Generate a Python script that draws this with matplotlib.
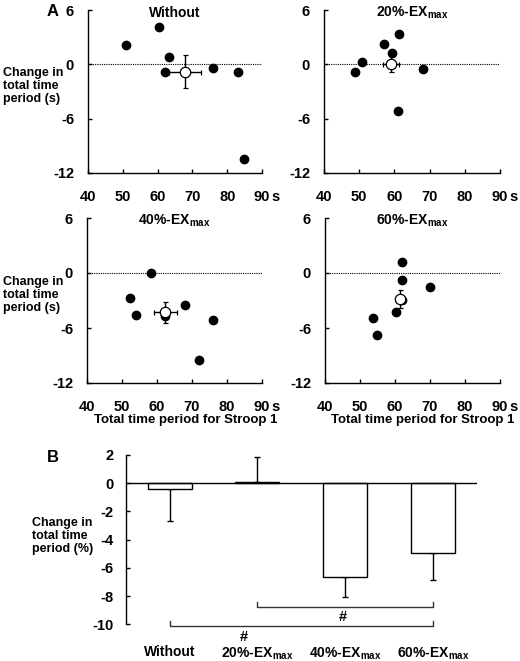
import numpy as np
import matplotlib
matplotlib.use('Agg')
import matplotlib.pyplot as plt

plt.rcParams['font.family'] = ['Liberation Sans', 'DejaVu Sans']
plt.rcParams['font.weight'] = 'bold'
plt.rcParams['mathtext.fontset'] = 'custom'
plt.rcParams['mathtext.rm'] = 'Liberation Sans:bold'
plt.rcParams['mathtext.bf'] = 'Liberation Sans:bold'
plt.rcParams['axes.unicode_minus'] = False

# panel A data: stroop 1 time (s) vs change in total time (s)
titles = ['Without', r'20%-EX$_{\rm max}$', r'40%-EX$_{\rm max}$', r'60%-EX$_{\rm max}$']
x_without = [51.0, 60.4, 63.2, 62.2, 75.9, 83.2, 84.8]
y_without = [2.1, 4.1, 0.8, -0.9, -0.4, -0.9, -10.5]
x_20 = [48.9, 50.8, 57.0, 59.4, 61.3, 68.1, 61.0]
y_20 = [-0.9, 0.3, 2.2, 1.2, 3.3, -0.55, -5.2]
x_40 = [58.2, 52.4, 54.0, 67.9, 76.1, 72.0, 62.3]
y_40 = [0.0, -2.7, -4.6, -3.5, -5.1, -9.5, -4.7]
x_60 = [61.9, 62.1, 70.1, 53.6, 54.8, 60.4, 62.1]
y_60 = [1.15, -0.75, -1.5, -4.9, -6.75, -4.25, -2.9]
# group means with SE
mean_x = [67.8, 59.1, 62.4, 61.5]
mean_y = [-0.8, 0.07, -4.3, -2.8]
se_x = [4.6, 2.2, 3.3, 1.2]
se_y = [1.8, 0.9, 1.1, 1.0]

# panel B data: change in total time (%)
groups = ['Without', r'20%-EX$_{\rm max}$', r'40%-EX$_{\rm max}$', r'60%-EX$_{\rm max}$']
pct_change = [-0.43, 0.12, -6.62, -4.96]
pct_se = [2.24, 1.73, 1.48, 1.9]

fig = plt.figure(figsize=(5.2, 6.61), dpi=100)
W, H = 520.0, 661.0

def px_axes(x0, y0, x1, y1):
    return fig.add_axes([x0 / W, 1 - y1 / H, (x1 - x0) / W, (y1 - y0) / H])

boxes = [(88, 10, 262, 173), (324, 10, 500, 173),
         (87, 218, 262, 383), (325, 218, 500, 383)]
xs = [x_without, x_20, x_40, x_60]
ys = [y_without, y_20, y_40, y_60]

for i, b in enumerate(boxes):
    ax = px_axes(*b)
    ax.axhline(0, color='black', lw=0.8, ls=(0, (1, 1)), zorder=1)
    ax.plot(xs[i], ys[i], 'o', color='black', ms=6, zorder=3)
    ax.errorbar(mean_x[i], mean_y[i], xerr=se_x[i], yerr=se_y[i], fmt='o',
                mfc='white', mec='black', ecolor='black', ms=7.5, mew=0.9,
                elinewidth=1, capsize=1.8, zorder=4)
    ax.set_xlim(40, 90)
    ax.set_ylim(-12, 6)
    ax.set_xticks([40, 50, 60, 70, 80, 90])
    ax.set_yticks([6, 0, -6, -12])
    ax.spines['top'].set_visible(False)
    ax.spines['right'].set_visible(False)
    for s in ['left', 'bottom']:
        ax.spines[s].set_linewidth(1.0)
    ax.tick_params(axis='x', direction='in', length=3, width=1, pad=12.5, labelsize=10.5)
    ax.tick_params(axis='y', direction='in', length=3, width=1, pad=10, labelsize=10.5)
    for lab in ax.get_xticklabels() + ax.get_yticklabels():
        lab.set_fontweight('bold')
    ax.annotate(titles[i], xy=(0.5, 1), xycoords='axes fraction', xytext=(0, -2),
                textcoords='offset points', ha='center', va='center',
                fontsize=10, fontweight='bold', annotation_clip=False)
    ax.annotate('s', xy=(1, 0), xycoords='axes fraction', xytext=(9.5, -17),
                textcoords='offset points', ha='center', va='center',
                fontsize=10.5, fontweight='bold', annotation_clip=False)

ylab_s = 'Change in\ntotal time\nperiod (s)'
fig.text(3 / W, 1 - 86 / H, ylab_s, ha='left', va='center',
         fontsize=9, fontweight='bold', linespacing=1.15)
fig.text(3 / W, 1 - 295 / H, ylab_s, ha='left', va='center',
         fontsize=9, fontweight='bold', linespacing=1.15)
fig.text(186 / W, 1 - 420 / H, 'Total time period for Stroop 1', ha='center', va='center',
         fontsize=9.5, fontweight='bold')
fig.text(423 / W, 1 - 420 / H, 'Total time period for Stroop 1', ha='center', va='center',
         fontsize=9.5, fontweight='bold')
fig.text(53 / W, 1 - 12 / H, 'A', ha='center', va='center', fontsize=12, fontweight='bold')
fig.text(53 / W, 1 - 458 / H, 'B', ha='center', va='center', fontsize=12, fontweight='bold')

# panel B
axb = px_axes(125.7, 455, 476.7, 624.3)
pos = np.arange(len(groups))
lower = [pct_se[k] if pct_change[k] < 0 else 0 for k in range(4)]
upper = [pct_se[k] if pct_change[k] >= 0 else 0 for k in range(4)]
axb.bar(pos, pct_change, 0.5, color='white', edgecolor='black', lw=1, zorder=2)
axb.errorbar(pos, pct_change, yerr=[lower, upper], fmt='none', ecolor='black',
             elinewidth=1, capsize=2, capthick=1, zorder=1)
axb.axhline(0, color='black', lw=1, zorder=3)
axb.set_xlim(-0.5, 3.5)
axb.set_ylim(-10, 2)
axb.set_yticks([2, 0, -2, -4, -6, -8, -10])
axb.set_xticks(pos)
axb.set_xticklabels(groups)
for s in ['top', 'right', 'bottom']:
    axb.spines[s].set_visible(False)
axb.spines['left'].set_linewidth(1)
axb.tick_params(axis='y', direction='in', length=3, width=1, pad=9, labelsize=10.5)
axb.tick_params(axis='x', length=0, pad=15, labelsize=10)
for lab in axb.get_xticklabels() + axb.get_yticklabels():
    lab.set_fontweight('bold')

# significance brackets
axb.plot([1.0, 1.0, 3.0, 3.0], [-8.45, -8.75, -8.75, -8.45], color='#333333', lw=1, clip_on=False)
axb.text(1.97, -9.45, '#', ha='center', va='center', fontsize=10.5, fontweight='bold')
axb.plot([0.0, 0.0, 3.0, 3.0], [-9.77, -10.1, -10.1, -9.77], color='#333333', lw=1, clip_on=False)
axb.text(0.85, -10.9, '#', ha='center', va='center', fontsize=10.5, fontweight='bold', clip_on=False)

fig.text(32 / W, 1 - 536 / H, 'Change in\ntotal time\nperiod (%)', ha='left', va='center',
         fontsize=9, fontweight='bold', linespacing=1.15)

fig.savefig('out.png', dpi=100)
